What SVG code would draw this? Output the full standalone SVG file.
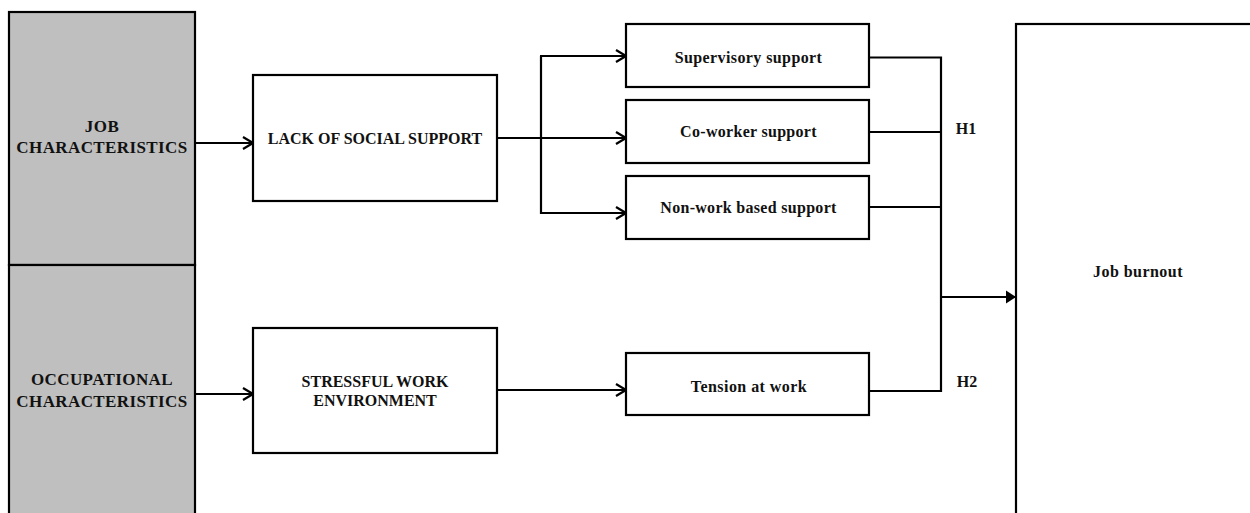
<svg xmlns="http://www.w3.org/2000/svg" width="1250" height="513" viewBox="0 0 1250 513">
<style>
.box{fill:#ffffff;stroke:#000;stroke-width:2.2}
.gray{fill:#bfbfbf;stroke:#000;stroke-width:2.2}
.t{font-family:"Liberation Serif","Times New Roman",serif;font-weight:bold;font-size:16px;fill:#111;text-anchor:middle}
.g{font-size:17px;letter-spacing:0.4px}
.ln{fill:none;stroke:#000;stroke-width:2.2}
</style>
<defs>
<marker id="open" markerWidth="12" markerHeight="14" refX="11" refY="7" orient="auto" markerUnits="userSpaceOnUse">
<path d="M1,1 L11,7 L1,13" fill="none" stroke="#000" stroke-width="2.2"/>
</marker>
<marker id="solid" markerWidth="10" markerHeight="14" refX="10" refY="7" orient="auto" markerUnits="userSpaceOnUse">
<path d="M0,0.5 L10,7 L0,13.5 Z" fill="#000"/>
</marker>
</defs>

<g id="job-characteristics">
<rect class="gray" x="9" y="12" width="186" height="253"/>
<text class="t g" x="102" y="132">JOB</text>
<text class="t g" x="102" y="153">CHARACTERISTICS</text>
</g>
<g id="occupational-characteristics">
<rect class="gray" x="9" y="265" width="186" height="270"/>
<text class="t g" x="102" y="385">OCCUPATIONAL</text>
<text class="t g" x="102" y="407">CHARACTERISTICS</text>
</g>

<g id="lack-social-support">
<rect class="box" x="253" y="75" width="244" height="126"/>
<text class="t" x="375" y="144">LACK OF SOCIAL SUPPORT</text>
</g>
<g id="stressful-work-environment">
<rect class="box" x="253" y="328" width="244" height="125"/>
<text class="t" x="375" y="387">STRESSFUL WORK</text>
<text class="t" x="375" y="406">ENVIRONMENT</text>
</g>

<g id="supervisory-support">
<rect class="box" x="626" y="24" width="243" height="63"/>
<text class="t" x="748.5" y="63" style="letter-spacing:0.4px">Supervisory support</text>
</g>
<g id="co-worker-support">
<rect class="box" x="626" y="100" width="243" height="63"/>
<text class="t" x="748.5" y="137" style="letter-spacing:0.3px">Co-worker support</text>
</g>
<g id="non-work-based-support">
<rect class="box" x="626" y="176" width="243" height="63"/>
<text class="t" x="748.5" y="213" style="letter-spacing:0.3px">Non-work based support</text>
</g>
<g id="tension-at-work">
<rect class="box" x="626" y="353" width="243" height="62"/>
<text class="t" x="749" y="392" style="letter-spacing:0.45px">Tension at work</text>
</g>

<g id="job-burnout">
<rect class="box" x="1016" y="24" width="300" height="560"/>
<text class="t" x="1138" y="277" style="letter-spacing:0.45px">Job burnout</text>
</g>

<g id="connectors">
<line class="ln" x1="195" y1="143" x2="253" y2="143" marker-end="url(#open)"/>
<line class="ln" x1="195" y1="394" x2="253" y2="394" marker-end="url(#open)"/>
<line class="ln" x1="497" y1="138" x2="626" y2="138" marker-end="url(#open)"/>
<polyline class="ln" points="541,56 541,213 626,213" marker-end="url(#open)"/>
<line class="ln" x1="540" y1="56" x2="626" y2="56" marker-end="url(#open)"/>
<line class="ln" x1="497" y1="390" x2="626" y2="390" marker-end="url(#open)"/>
<polyline class="ln" points="869,57.5 941,57.5 941,391 869,391"/>
<line class="ln" x1="869" y1="132" x2="941" y2="132"/>
<line class="ln" x1="869" y1="207" x2="941" y2="207"/>
<line class="ln" x1="941" y1="297" x2="1016" y2="297" marker-end="url(#solid)"/>
<text class="t" x="966" y="134">H1</text>
<text class="t" x="967" y="387">H2</text>
</g>
</svg>
